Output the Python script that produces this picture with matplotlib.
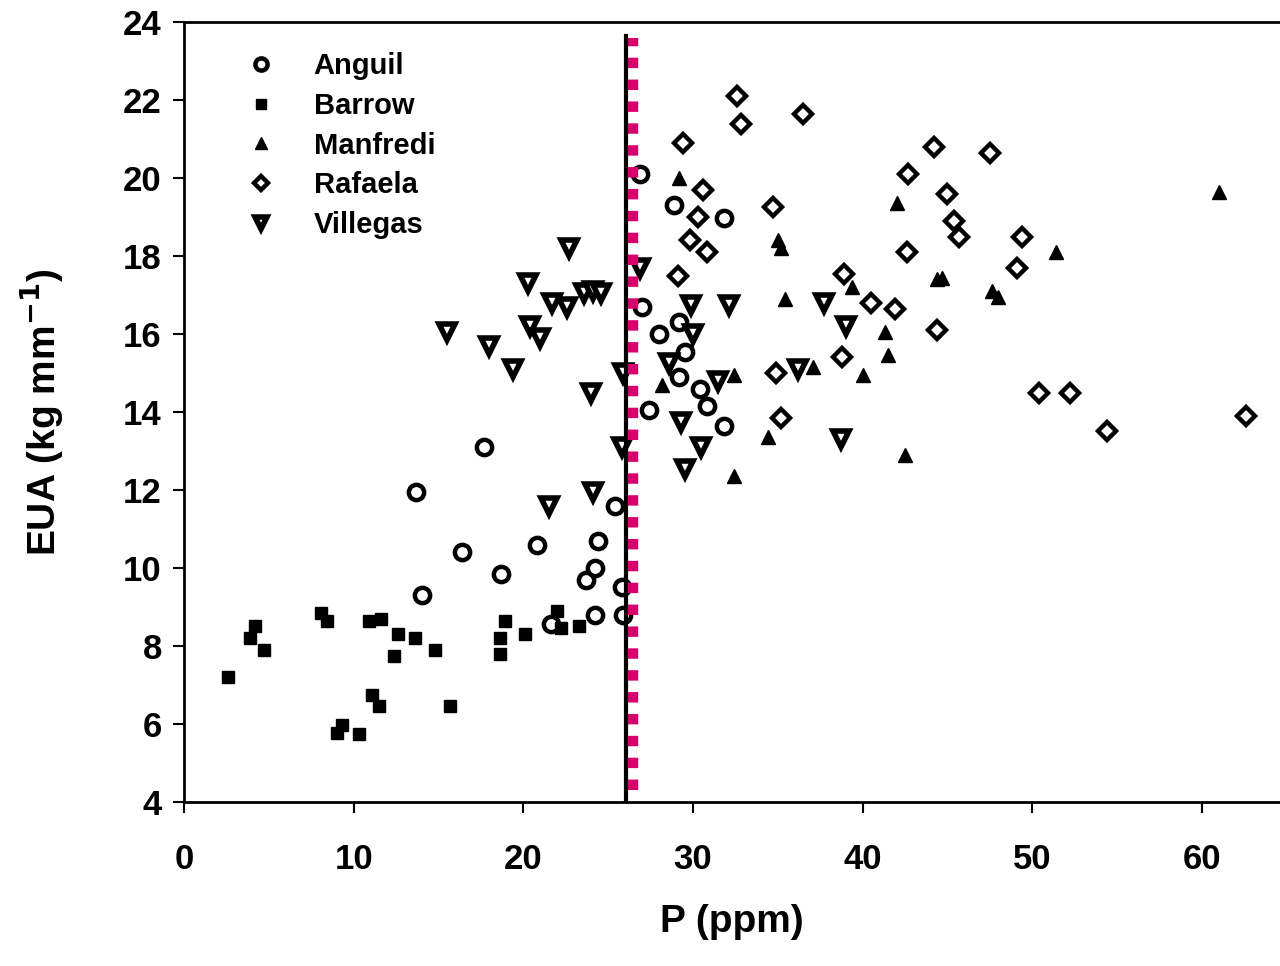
import matplotlib
matplotlib.use("Agg")
import matplotlib.pyplot as plt

plt.rcParams['font.family'] = ['Liberation Sans', 'DejaVu Sans']
plt.rcParams['font.weight'] = 'bold'

# Anguil (open circles)
anguil_p = [13.7, 14.0, 16.4, 17.7, 18.7, 20.8, 21.6, 23.7, 24.2, 24.2, 24.4, 25.4,
            25.8, 25.9, 26.9, 27.0, 27.4, 28.0, 28.9, 29.2, 29.5, 29.2, 30.4, 30.8,
            31.8, 31.8]
anguil_eua = [11.95, 9.3, 10.4, 13.1, 9.85, 10.6, 8.55, 9.7, 10.0, 8.8, 10.7, 11.6,
              9.5, 8.8, 20.1, 16.7, 14.05, 16.0, 19.3, 16.3, 15.55, 14.9, 14.6, 14.15,
              18.97, 13.65]

# Barrow (filled squares)
barrow_p = [2.6, 3.9, 4.2, 4.7, 8.1, 8.4, 9.0, 9.3, 10.3, 10.9, 11.1, 11.5, 11.6,
            12.4, 12.6, 13.6, 14.8, 15.7, 18.6, 18.6, 18.9, 20.1, 22.0, 22.2, 23.3]
barrow_eua = [7.2, 8.2, 8.5, 7.9, 8.85, 8.65, 5.77, 5.97, 5.74, 8.65, 6.75, 6.45, 8.7,
              7.75, 8.3, 8.2, 7.9, 6.45, 8.2, 7.8, 8.65, 8.3, 8.9, 8.45, 8.5]

# Manfredi (filled triangles)
manfredi_p = [28.2, 29.2, 32.4, 32.4, 34.4, 35.0, 35.2, 35.4, 37.1, 39.4, 40.0, 41.3,
              41.5, 42.0, 42.5, 44.4, 44.7, 47.6, 48.0, 51.4, 61.0]
manfredi_eua = [14.7, 20.0, 14.95, 12.35, 13.35, 18.4, 18.2, 16.9, 15.15, 17.2, 14.95,
                16.05, 15.45, 19.35, 12.9, 17.4, 17.45, 17.1, 16.95, 18.1, 19.65]

# Rafaela (open diamonds)
rafaela_p = [29.1, 29.4, 29.8, 30.3, 30.6, 30.8, 32.6, 32.8, 34.7, 34.9, 35.2, 36.5,
             38.8, 38.9, 40.5, 41.9, 42.6, 42.7, 44.2, 44.4, 45.0, 45.4, 45.7, 47.5,
             49.1, 49.4, 50.4, 52.2, 54.4, 62.6]
rafaela_eua = [17.5, 20.9, 18.4, 19.0, 19.7, 18.1, 22.1, 21.4, 19.25, 15.0, 13.85, 21.65,
               15.4, 17.55, 16.8, 16.65, 18.1, 20.1, 20.8, 16.1, 19.6, 18.9, 18.5, 20.65,
               17.7, 18.5, 14.5, 14.5, 13.5, 13.9]

# Villegas (open inverted triangles)
villegas_p = [15.5, 18.0, 19.4, 20.3, 20.4, 21.0, 21.5, 21.7, 22.6, 22.7, 23.6, 24.1,
              24.6, 24.0, 24.1, 25.8, 25.9, 26.9, 28.6, 29.3, 29.5, 29.9, 30.0, 30.5,
              31.5, 32.1, 36.2, 37.7, 38.7, 39.0]
villegas_eua = [16.05, 15.7, 15.1, 17.3, 16.2, 15.9, 11.6, 16.8, 16.7, 18.2, 17.05, 17.1,
                17.05, 14.5, 11.95, 13.1, 15.0, 17.7, 15.25, 13.75, 12.55, 16.75, 16.0, 13.1,
                14.8, 16.75, 15.1, 16.8, 13.3, 16.2]

critical_p = 26.05
critical_p2 = 26.45

fig = plt.figure(figsize=(12.8, 9.66), dpi=100)
ax = fig.add_axes([0.1438, 0.170, 0.8562, 0.807])

ax.plot(anguil_p, anguil_eua, 'o', ms=11, mfc='white', mec='black', mew=3.2, label='Anguil', ls='none')
ax.plot(barrow_p, barrow_eua, 's', ms=9, mfc='black', mec='black', mew=1, label='Barrow', ls='none')
ax.plot(manfredi_p, manfredi_eua, '^', ms=10, mfc='black', mec='black', mew=1, label='Manfredi', ls='none')
ax.plot(rafaela_p, rafaela_eua, 'D', ms=9, mfc='white', mec='black', mew=3.2, label='Rafaela', ls='none')
ax.plot(villegas_p, villegas_eua, 'v', ms=11, mfc='white', mec='black', mew=4, label='Villegas', ls='none')

ax.plot([critical_p, critical_p], [4, 23.65], color='black', lw=3)
ax.plot([critical_p2, critical_p2], [4.3, 23.6], color='#d4006c', lw=7.5,
        ls=(0, (1, 1.1)), dash_capstyle='butt')

ax.set_xlim(0, 64.6)
ax.set_ylim(4, 24)
ax.set_xticks([0, 10, 20, 30, 40, 50, 60])
ax.set_yticks(range(4, 25, 2))
ax.tick_params(axis='both', direction='out', length=8, width=1.5, labelsize=25)
ax.tick_params(axis='x', pad=22)
ax.tick_params(axis='y', pad=8)
for lab in ax.get_xticklabels() + ax.get_yticklabels():
    lab.set_fontweight('bold')

ax.spines['right'].set_visible(False)
for s in ['left', 'bottom', 'top']:
    ax.spines[s].set_linewidth(2)

ax.set_xlabel('P (ppm)', fontsize=28, fontweight='bold', labelpad=20)
ax.set_ylabel('EUA (kg mm$^{\\mathbf{-1}}$)', fontsize=28, fontweight='bold', labelpad=42)

leg = ax.legend(loc='upper left', bbox_to_anchor=(0.033, 0.995), frameon=False,
                fontsize=21, handletextpad=1.3, labelspacing=0.4, markerscale=0.8,
                handlelength=1.0)
for t in leg.get_texts():
    t.set_fontweight('bold')

fig.savefig('out.png', dpi=100)
